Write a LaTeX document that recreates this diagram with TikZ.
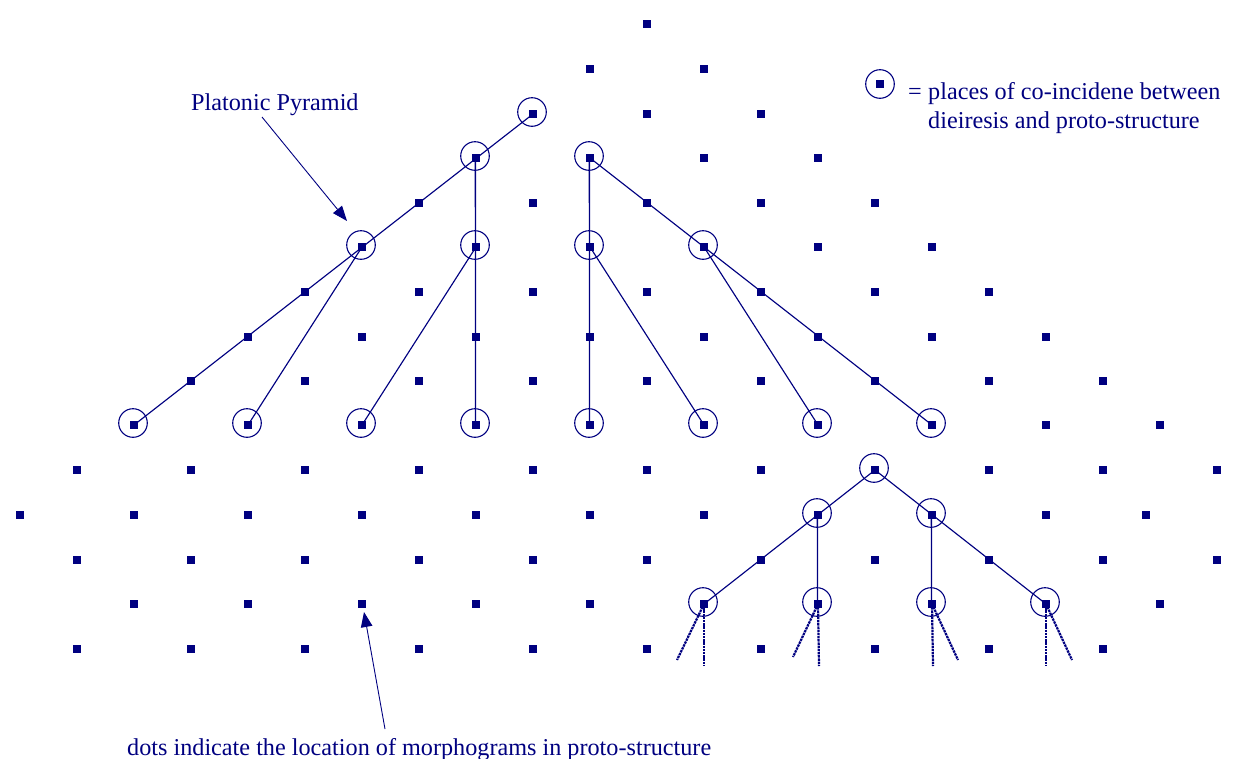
\documentclass[tikz,border=0pt]{standalone}
\usepackage{fontspec}
\setmainfont{Liberation Serif}
\usetikzlibrary{arrows.meta}
\definecolor{ink}{HTML}{000080}
\tikzset{
  dot/.style={fill=ink,draw=none,rectangle,inner sep=0pt,minimum size=8pt},
  ring/.style={draw=ink,line width=1.1pt,circle,inner sep=0pt,minimum size=28.6pt},
  link/.style={draw=ink,line width=1.15pt},
  upright link/.style={draw=ink,line width=1.35pt},
  dotted link/.style={draw=ink,line width=2.2pt,dash pattern=on 2.4pt off 0.8pt},
  pointer/.style={draw=ink,line width=0.9pt,-{Triangle[length=15pt,width=11.5pt]}},
  label/.style={text=ink,font=\fontsize{24.2pt}{28pt}\selectfont,inner sep=0pt,anchor=base west}
}
\begin{document}
\begin{tikzpicture}[x=1pt,y=-1pt]
\useasboundingbox (0,0) rectangle (1255,758);
\foreach \y/\xs in {
  24/{647},
  69/{590,704},
  114/{533,647,761},
  158/{476,590,704,818},
  203/{419,533,647,761,875},
  247/{362,476,590,704,818,932},
  292/{305,419,533,647,761,875,989},
  337/{248,362,476,590,704,818,932,1046},
  381/{191,305,419,533,647,761,875,989,1103},
  425/{134,248,362,476,590,704,818,932,1046,1160},
  470/{77,191,305,419,533,647,761,875,989,1103,1217},
  515/{20,134,248,362,476,590,704,818,932,1046,1146},
  560/{77,191,305,419,533,647,761,875,989,1103,1217},
  604/{134,248,362,476,590,704,818,932,1046,1160},
  649/{77,191,305,419,533,647,761,875,989,1103}}
  \foreach \x in \xs \node[dot] (d\x-\y) at (\x,\y) {};
\foreach \x/\y in {533/114,476/158,590/158,362/247,476/247,590/247,704/247,
  134/425,248/425,362/425,476/425,590/425,704/425,818/425,932/425,
  875/470,818/515,932/515,704/604,818/604,932/604,1046/604}
  \node[ring] (c\x-\y) at (\x-1,\y-2) {};
% upper pyramid
\draw[link] (d533-114.center) -- (d134-425.center);
\draw[upright link] ([xshift=-0.6pt]d476-158.center) -- ([xshift=-0.5pt]d476-425.center);
\draw[link] (d362-247.center) -- (d248-425.center);
\draw[link] (d476-247.center) -- (d362-425.center);
\draw[upright link] ([xshift=-0.6pt]d590-158.center) -- ([xshift=-0.5pt]d590-425.center);
\draw[link] (d590-158.center) -- (d932-425.center);
\draw[link] (d590-247.center) -- (d704-425.center);
\draw[link] (d704-247.center) -- (d818-425.center);
% lower pyramid
\draw[link] (d875-470.center) -- (d704-604.center);
\draw[link] (d875-470.center) -- (d1046-604.center);
\draw[upright link] ([xshift=-0.6pt]d818-515.center) -- ([xshift=-0.5pt]d818-604.center);
\draw[upright link] ([xshift=-0.6pt]d932-515.center) -- ([xshift=-0.5pt]d932-604.center);
% dotted continuations
\coordinate (e1) at (677,660);
\coordinate (e2) at (704,666);
\coordinate (e3) at (793,657);
\coordinate (e4) at (819,666);
\coordinate (e5) at (933,666);
\coordinate (e6) at (958,660);
\coordinate (e7) at (1046,666);
\coordinate (e8) at (1072,660);
\draw[dotted link] (d704-604.center) -- (e1);
\draw[dotted link] (d704-604.center) -- (e2);
\draw[dotted link] (d818-604.center) -- (e3);
\draw[dotted link] (d818-604.center) -- (e4);
\draw[dotted link] (d932-604.center) -- (e5);
\draw[dotted link] (d932-604.center) -- (e6);
\draw[dotted link] (d1046-604.center) -- (e7);
\draw[dotted link] (d1046-604.center) -- (e8);
% legend
\node[dot] (legdot) at (880,84) {};
\node[ring] (legring) at (880,84) {};
\node[label] (legeq) at (908,99) {=};
\node[label] (leg1) at (928,99) {places of co-incidene between};
\node[label] (leg2) at (928,128) {dieiresis and proto-structure};
% labels and pointers
\node[label] (plato) at (191,110) {Platonic Pyramid};
\coordinate (p1) at (262,117);
\coordinate (p2) at (347,221);
\draw[pointer] (p1) -- (p2);
\node[label] (dots) at (127,755) {dots indicate the location of morphograms in proto-structure};
\coordinate (q1) at (385,729);
\coordinate (q2) at (364,612);
\draw[pointer] (q1) -- (q2);
\end{tikzpicture}
\end{document}
